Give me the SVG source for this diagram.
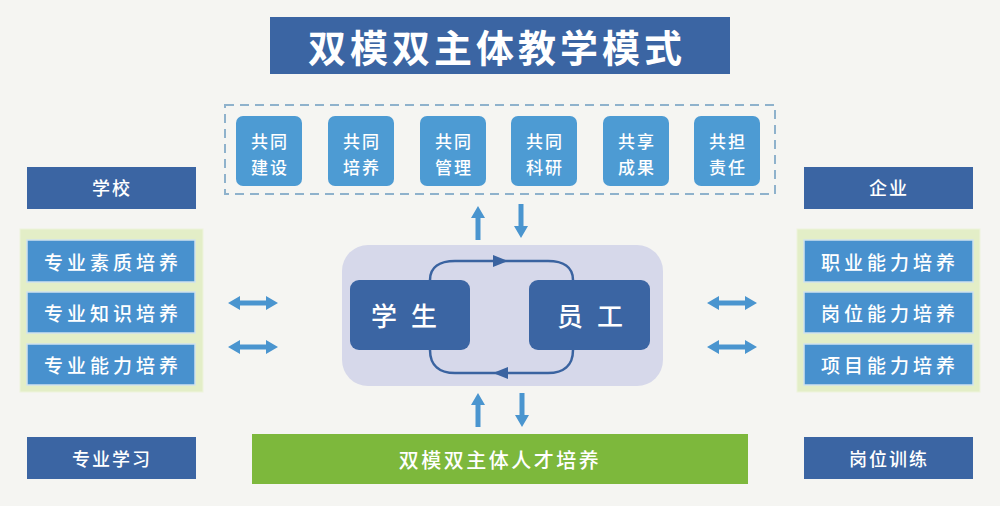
<svg xmlns="http://www.w3.org/2000/svg" width="1000" height="506" viewBox="0 0 1000 506">
  <defs>
    <style>
      text { font-family: "Noto Sans CJK SC", "Noto Sans", sans-serif; fill: #ffffff; text-anchor: middle; dominant-baseline: central; font-weight: 500; }
      .dark { fill: #3b65a3; }
      .tile { fill: #4d9bd3; }
      .item { fill: #4891ce; stroke: #cfe2ee; stroke-width: 1.5; }
      .holder { fill: #e3eec7; stroke: #eef4dc; stroke-width: 1; }
      .arrow { fill: #4a95cf; }
      .loop { fill: none; stroke: #3a63a0; stroke-width: 2.5; }
      .t17 { font-size: 17px; letter-spacing: 2px; }
      .t18 { font-size: 18px; letter-spacing: 2px; }
      .t19 { font-size: 19px; letter-spacing: 4px; }
    </style>
    <path id="harrow" d="M-25,0 L-13,-7 L-13,-2.5 L13,-2.5 L13,-7 L25,0 L13,7 L13,2.5 L-13,2.5 L-13,7 Z"/>
    <path id="uparrow" d="M0,-17 L7,-5 L2.5,-5 L2.5,17 L-2.5,17 L-2.5,-5 L-7,-5 Z"/>
  </defs>

  <rect x="0" y="0" width="1000" height="506" fill="#f5f5f2"/>

  <g id="title">
    <rect x="270" y="17" width="460" height="57" class="dark"/>
    <text x="497" y="45" font-size="38" font-weight="bold" letter-spacing="4" style="font-weight:bold">双模双主体教学模式</text>
  </g>

  <g id="cooperation">
    <rect x="225" y="105" width="550" height="89" fill="none" stroke="#8fb2cc" stroke-width="2" stroke-dasharray="9,6"/>
    <g id="tile1"><rect x="236" y="116" width="66" height="70" rx="7" class="tile"/><text class="t17" x="270" y="140">共同</text><text class="t17" x="270" y="166">建设</text></g>
    <g id="tile2"><rect x="328" y="116" width="66" height="70" rx="7" class="tile"/><text class="t17" x="362" y="140">共同</text><text class="t17" x="362" y="166">培养</text></g>
    <g id="tile3"><rect x="420" y="116" width="66" height="70" rx="7" class="tile"/><text class="t17" x="454" y="140">共同</text><text class="t17" x="454" y="166">管理</text></g>
    <g id="tile4"><rect x="511" y="116" width="66" height="70" rx="7" class="tile"/><text class="t17" x="545" y="140">共同</text><text class="t17" x="545" y="166">科研</text></g>
    <g id="tile5"><rect x="603" y="116" width="66" height="70" rx="7" class="tile"/><text class="t17" x="637" y="140">共享</text><text class="t17" x="637" y="166">成果</text></g>
    <g id="tile6"><rect x="694" y="116" width="66" height="70" rx="7" class="tile"/><text class="t17" x="728" y="140">共担</text><text class="t17" x="728" y="166">责任</text></g>
  </g>

  <g id="school">
    <rect x="27" y="167" width="169" height="42" class="dark"/>
    <text class="t18" x="112" y="187">学校</text>
  </g>
  <g id="school-items">
    <rect x="20" y="229" width="183" height="163" class="holder"/>
    <rect x="27" y="240" width="168" height="42" class="item"/>
    <text class="t19" x="113" y="261">专业素质培养</text>
    <rect x="27" y="292" width="168" height="41" class="item"/>
    <text class="t19" x="113" y="312">专业知识培养</text>
    <rect x="27" y="344" width="168" height="41" class="item"/>
    <text class="t19" x="113" y="364">专业能力培养</text>
  </g>
  <g id="study">
    <rect x="27" y="437" width="169" height="42" class="dark"/>
    <text class="t18" x="112" y="458">专业学习</text>
  </g>

  <g id="enterprise">
    <rect x="804" y="167" width="169" height="42" class="dark"/>
    <text class="t18" x="889" y="187">企业</text>
  </g>
  <g id="enterprise-items">
    <rect x="797" y="229" width="183" height="163" class="holder"/>
    <rect x="804" y="240" width="169" height="42" class="item"/>
    <text class="t19" x="890" y="261">职业能力培养</text>
    <rect x="804" y="292" width="169" height="41" class="item"/>
    <text class="t19" x="890" y="312">岗位能力培养</text>
    <rect x="804" y="344" width="169" height="41" class="item"/>
    <text class="t19" x="890" y="364">项目能力培养</text>
  </g>
  <g id="training">
    <rect x="804" y="437" width="169" height="42" class="dark"/>
    <text class="t18" x="889" y="458">岗位训练</text>
  </g>

  <g id="core">
    <rect x="342" y="245" width="321" height="141" rx="26" fill="#d6d8ea"/>
  </g>
  <g id="student">
    <rect x="350" y="280" width="120" height="70" rx="9" class="dark"/>
    <text x="411" y="314" font-size="26" letter-spacing="14">学生</text>
  </g>
  <g id="employee">
    <rect x="529" y="280" width="121" height="70" rx="9" class="dark"/>
    <text x="597" y="314" font-size="26" letter-spacing="14">员工</text>
  </g>

  <g id="talent">
    <rect x="252" y="434" width="496" height="50" fill="#7db83c"/>
    <text x="500" y="459" font-size="20" letter-spacing="2.5" fill="#f4f9e6">双模双主体人才培养</text>
  </g>

  <g id="connectors">
    <path class="loop" d="M430,280 C430,267 440,261 455,261 L548,261 C563,261 573,267 573,280"/>
    <polygon points="493,255 508,261 493,267" fill="#3a63a0"/>
    <path class="loop" d="M573,350 C573,366 563,373 548,373 L455,373 C440,373 430,366 430,350"/>
    <polygon points="508,367 493,373 508,379" fill="#3a63a0"/>
    <use href="#harrow" class="arrow" transform="translate(253,303)"/>
    <use href="#harrow" class="arrow" transform="translate(253,347)"/>
    <use href="#harrow" class="arrow" transform="translate(732,303)"/>
    <use href="#harrow" class="arrow" transform="translate(732,347)"/>
    <use href="#uparrow" class="arrow" transform="translate(478,223)"/>
    <use href="#uparrow" class="arrow" transform="translate(521,221) rotate(180)"/>
    <use href="#uparrow" class="arrow" transform="translate(478,410)"/>
    <use href="#uparrow" class="arrow" transform="translate(522,410) rotate(180)"/>
  </g>
</svg>
